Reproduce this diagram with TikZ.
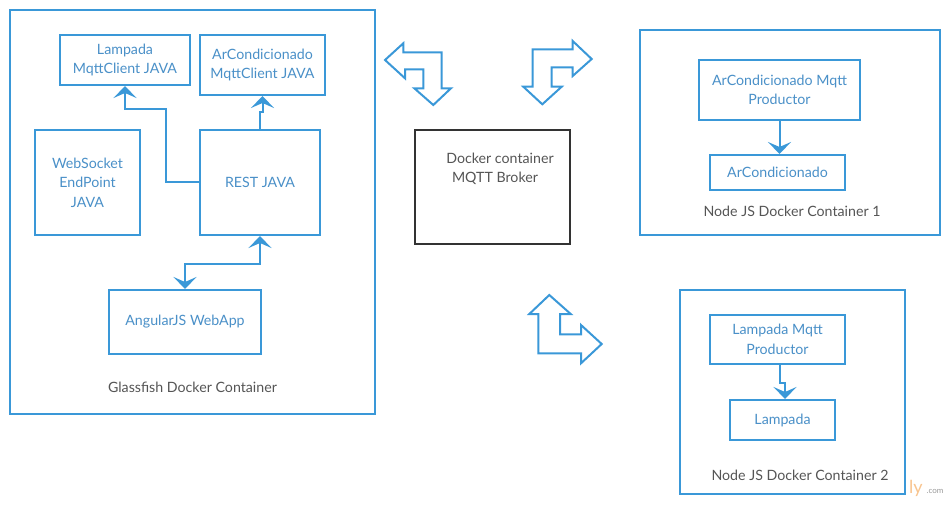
\documentclass[tikz,border=0pt]{standalone}
\usepackage{fontspec}
\setmainfont{Lato}
\usetikzlibrary{arrows.meta,calc}
\definecolor{lineblue}{HTML}{3A98D8}
\definecolor{textblue}{HTML}{4A90C8}
\definecolor{labelgray}{HTML}{555555}
\definecolor{brokergray}{HTML}{333333}
\definecolor{wmorange}{HTML}{F8C48E}
\definecolor{wmgray}{HTML}{9A9A9A}
\begin{document}
\begin{tikzpicture}[x=1pt,y=-1pt,
  every node/.style={font=\fontsize{14.2}{19.5}\selectfont, inner sep=0pt},
  box/.style={draw=lineblue, line width=2pt, fill=white, text=textblue, align=center},
  cont/.style={draw=lineblue, line width=2pt, fill=white},
  lbl/.style={text=labelgray},
  conn/.style={draw=lineblue, line width=2pt, line join=miter},
  tip/.style={-{Stealth[length=12pt,width=23pt,inset=5pt]}},
  bigarrow/.style={draw=lineblue, line width=2pt, fill=white, line join=miter}
]
\useasboundingbox (0,0) rectangle (950,505);
% watermark
\node[text=wmorange, font=\fontsize{18}{20}\selectfont] (wmly) at (916,488) {ly};
\node[text=wmgray, font=\fontsize{8}{9}\selectfont] (wmcom) at (935,491) {.com};

% containers
\node[cont, minimum width=365pt, minimum height=404pt] (glass) at (192.5,212) {};
\node[cont, minimum width=300pt, minimum height=205pt] (node1) at (790,132.5) {};
\node[cont, minimum width=225pt, minimum height=204pt] (node2) at (792.5,392) {};
\node[draw=brokergray, line width=2pt, fill=white, minimum width=155pt, minimum height=114pt] (broker) at (492.5,187) {};

% container labels
\node[lbl] (glasslbl) at (192.5,387) {Glassfish Docker Container};
\node[lbl] (node1lbl) at (792,211) {Node JS Docker Container 1};
\node[lbl] (node2lbl) at (800,475) {Node JS Docker Container 2};
\node[text=labelgray, align=center] (brokerlbl) at (500,169) {Docker container\\MQTT Broker\hspace*{10pt}};

% inner boxes
\node[box, minimum width=130pt, minimum height=50pt] (lampc) at (125,60) {Lampada\\MqttClient JAVA};
\node[box, minimum width=125pt, minimum height=60pt] (arcc) at (262.5,65) {ArCondicionado\\MqttClient JAVA};
\node[box, minimum width=105pt, minimum height=105pt] (ws) at (87.5,182.5) {WebSocket\\EndPoint\\JAVA};
\node[box, minimum width=120pt, minimum height=105pt] (rest) at (260,182.5) {REST JAVA};
\node[box, minimum width=152pt, minimum height=64pt] (ang) at (185,322) {AngularJS WebApp};
\node[box, minimum width=161pt, minimum height=60pt] (arcp) at (779.5,90) {ArCondicionado Mqtt\\Productor};
\node[box, minimum width=135pt, minimum height=35pt] (arcd) at (777.5,172.5) {ArCondicionado};
\node[box, minimum width=135pt, minimum height=49pt] (lampp) at (777.5,339.5) {Lampada Mqtt\\Productor};
\node[box, minimum width=105pt, minimum height=40pt] (lampd) at (782.5,420) {Lampada};

% connectors
\draw[conn, tip] (rest.west) -- ++(-33,0) |- ([yshift=-23pt]lampc.south) -- (lampc.south);
\draw[conn, tip] (rest.north) -- ++(0,-17) -| (arcc.south);
\draw[conn, {Stealth[length=12pt,width=23pt,inset=5pt]}-{Stealth[length=12pt,width=23pt,inset=5pt]}]
  (rest.south) -- ++(0,28) -| (ang.north);
\draw[conn, tip] (arcp.south) -- (arcp.south |- arcd.north);
\draw[conn, tip] ([xshift=2.5pt]lampp.south) -- ++(0,18) -| ([xshift=2.5pt]lampd.north);

% big bent arrows
\draw[bigarrow] (385,60) -- (403.3,43.3) -- (403.3,52.3) -- (441.7,52.3) -- (441.7,88.3)
  -- (451,88.3) -- (433.3,105) -- (414.3,88.3) -- (423.3,88.3) -- (423.3,69.3)
  -- (405,69.3) -- (405,78.3) -- cycle;
\draw[bigarrow] (591.7,59) -- (572.7,41) -- (572.7,49.3) -- (532.7,49.3) -- (532.7,86.7)
  -- (523.3,86.7) -- (542.3,104.3) -- (561.7,86.7) -- (551.7,86.7) -- (551.7,67.3)
  -- (572.7,67.3) -- (572.7,76) -- cycle;
\draw[bigarrow] (549.3,295) -- (570.7,314) -- (560,314) -- (560,334.3) -- (581,334.3)
  -- (581,325) -- (601.7,344) -- (581,363.3) -- (581,353.3) -- (538.3,353.3)
  -- (538.3,314) -- (529.3,314) -- cycle;
\end{tikzpicture}
\end{document}
